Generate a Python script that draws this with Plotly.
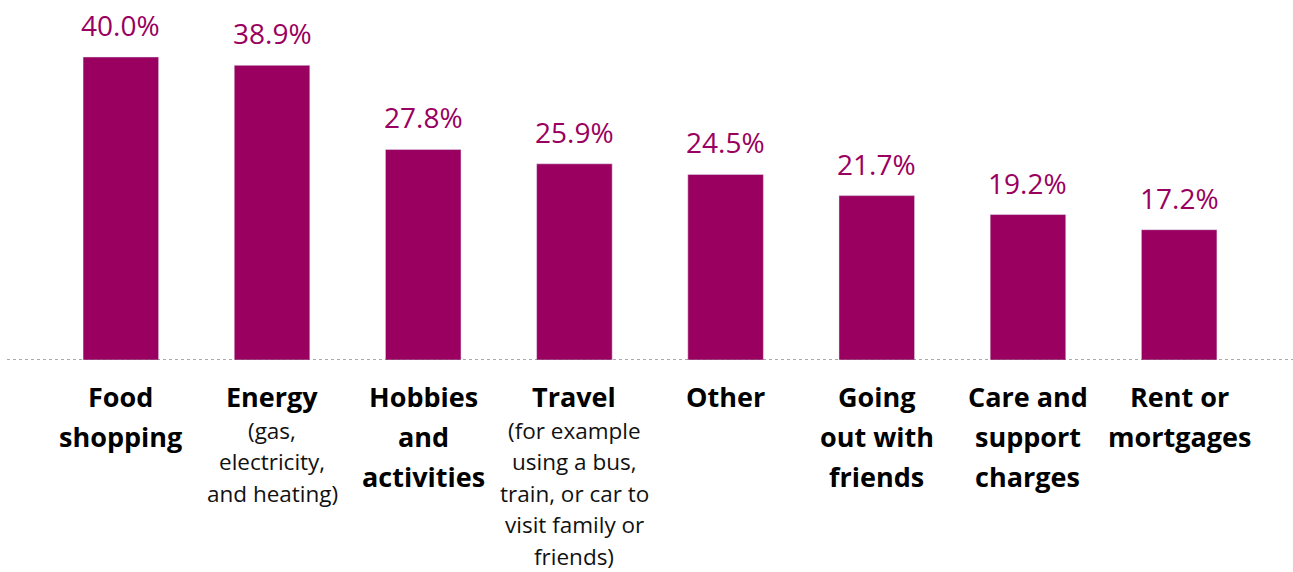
import plotly.graph_objects as go

categories = ["Food shopping", "Energy", "Hobbies and activities", "Travel", "Other",
              "Going out with friends", "Care and support charges", "Rent or mortgages"]
values = [40.0, 38.9, 27.8, 25.9, 24.5, 21.7, 19.2, 17.2]
title_lines = [["Food", "shopping"], ["Energy"], ["Hobbies", "and", "activities"], ["Travel"],
               ["Other"], ["Going", "out with", "friends"], ["Care and", "support", "charges"],
               ["Rent or", "mortgages"]]
note_lines = [[], ["(gas,", "electricity,", "and heating)"], [],
              ["(for example", "using a bus,", "train, or car to", "visit family or", "friends)"],
              [], [], [], []]

PURPLE = "#990060"
FONT = "Open Sans"

fig = go.Figure(go.Bar(x=categories, y=values, marker_color=PURPLE, width=0.5,
                       hoverinfo="skip"))

annotations = []
for cat, v in zip(categories, values):
    annotations.append(dict(x=cat, y=v, xref="x", yref="y", text=f"{v:.1f}%",
                            showarrow=False, yanchor="middle", yshift=32,
                            font=dict(family=FONT, size=28, color=PURPLE)))
for cat, tl, nl in zip(categories, title_lines, note_lines):
    off = 36
    for line in tl:
        annotations.append(dict(x=cat, y=0, xref="x", yref="paper", text=f"<b>{line}</b>",
                                showarrow=False, yanchor="middle", yshift=-off,
                                font=dict(family=FONT, size=27, color="#000000")))
        off += 40
    off -= 6
    for line in nl:
        annotations.append(dict(x=cat, y=0, xref="x", yref="paper", text=line,
                                showarrow=False, yanchor="middle", yshift=-off,
                                font=dict(family=FONT, size=22.5, color="#111111")))
        off += 31.5

fig.update_layout(
    width=1293, height=572,
    margin=dict(l=7, r=0, t=0, b=212),
    plot_bgcolor="white", paper_bgcolor="white",
    showlegend=False,
    bargap=0.5,
    xaxis=dict(range=[-0.753, 7.753], showticklabels=False, showgrid=False,
               zeroline=False, showline=False, ticks=""),
    yaxis=dict(range=[0, 47.52], visible=False, showgrid=False, zeroline=False),
    annotations=annotations,
    shapes=[dict(type="line", xref="paper", yref="y", x0=0, x1=1, y0=0, y1=0,
                 line=dict(color="#555555", width=1, dash="dot"))],
)

fig.write_html("out.html")
